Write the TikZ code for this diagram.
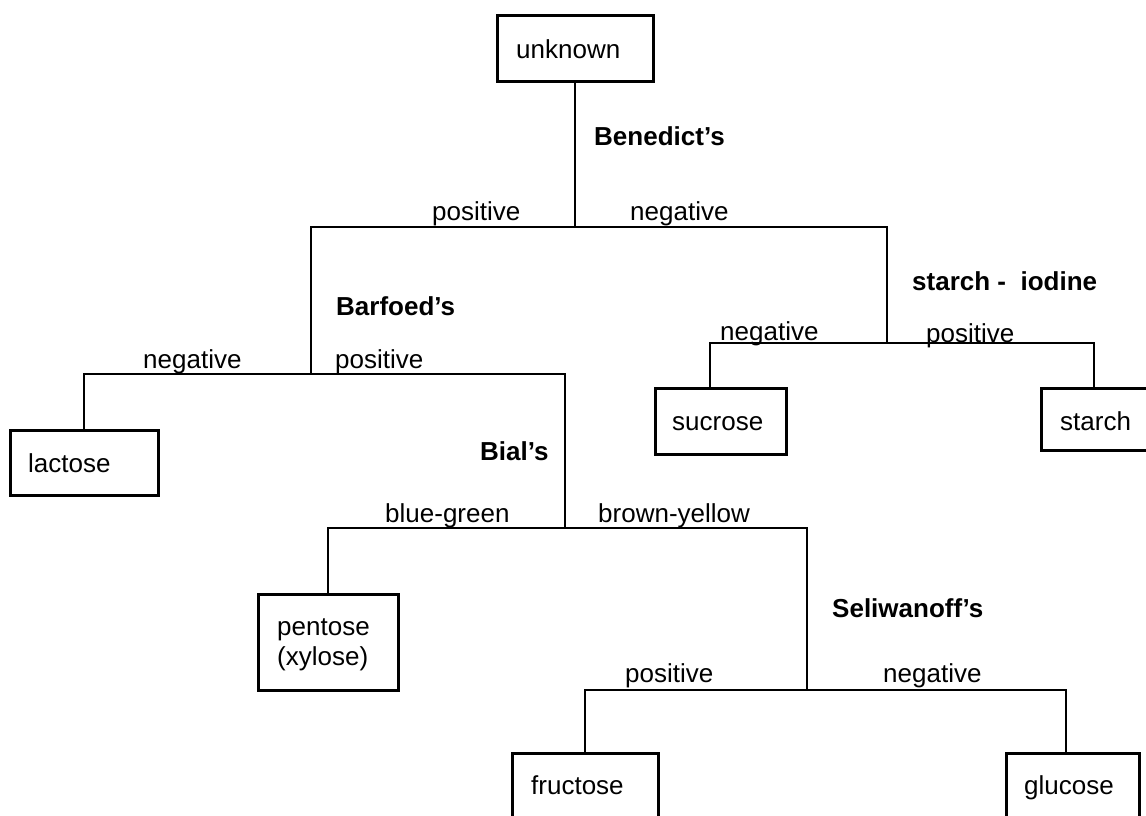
\documentclass[tikz,border=0pt]{standalone}
\usepackage{fontspec}
\setmainfont{Liberation Sans}
\begin{document}
\begin{tikzpicture}[x=1pt,y=-1pt,
  box/.style={draw=black, line width=3pt, fill=none, anchor=north west, inner sep=0pt, outer sep=0pt},
  txt/.style={anchor=base west, inner sep=0pt, font=\fontsize{26}{30}\selectfont},
  test/.style={txt, font=\fontsize{26}{30}\selectfont\bfseries},
  conn/.style={draw=black, line width=2.6pt, line join=miter}]
\useasboundingbox (0,0) rectangle (1146,815);
\clip (0,0) rectangle (1146,815);
% boxes
\node[box, minimum width=156pt, minimum height=66pt] (unk) at (497,15) {};
\node[box, minimum width=148pt, minimum height=65pt] (lac) at (10,430) {};
\node[box, minimum width=131pt, minimum height=66pt] (suc) at (655,388) {};
\node[box, minimum width=108pt, minimum height=62pt] (sta) at (1041,388) {};
\node[box, minimum width=140pt, minimum height=96pt] (pen) at (258,594) {};
\node[box, minimum width=146pt, minimum height=66pt] (fru) at (512,753) {};
\node[box, minimum width=133pt, minimum height=66pt] (glu) at (1006,753) {};
% box texts
\node[txt] (unkT) at (516,58) {unknown};
\node[txt] (lacT) at (28,472) {lactose};
\node[txt] (sucT) at (672,430) {sucrose};
\node[txt] (staT) at (1060,430) {starch};
\node[txt] (penT) at (277,635) {pentose};
\node[txt] (penT2) at (277,665) {(xylose)};
\node[txt] (fruT) at (531,794) {fructose};
\node[txt] (gluT) at (1024,794) {glucose};
% junction coordinates
\coordinate (bJ) at (575,227);
\coordinate (bR) at (887,227);
\coordinate (fJ) at (311,374);
\coordinate (fR) at (565,374);
\coordinate (iJ) at (565,528);
\coordinate (iR) at (807,528);
\coordinate (sJ) at (807,690);
\coordinate (sR) at (1066,690);
\coordinate (tJ) at (887,343);
\coordinate (tL) at (710,343);
\coordinate (tR) at (1094,343);
% connectors
\draw[conn] (unk.south) -- (bJ);
\draw[conn] (fJ) |- (bR) -- (tJ);
\draw[conn] (lac.north) |- (fR) -- (iJ);
\draw[conn] (pen.north) |- (iR) -- (sJ);
\draw[conn] (fru.north) |- (sR) -- (sR |- glu.north);
\draw[conn] (tL |- suc.north) -- (tL) -- (tR) -- (tR |- sta.north);
% test names
\node[test] (tBen) at (594,145) {Benedict’s};
\node[test] (tBar) at (336,315) {Barfoed’s};
\node[test] (tBia) at (480,460) {Bial’s};
\node[test] (tSel) at (832,617) {Seliwanoff’s};
\node[test] (tIod) at (912,290) {starch -\ \ iodine};
% outcome labels
\node[txt] (l1) at (432,220) {positive};
\node[txt] (l2) at (630,220) {negative};
\node[txt] (l3) at (143,368) {negative};
\node[txt] (l4) at (335,368) {positive};
\node[txt] (l5) at (385,522) {blue-green};
\node[txt] (l6) at (598,522) {brown-yellow};
\node[txt] (l7) at (625,682) {positive};
\node[txt] (l8) at (883,682) {negative};
\node[txt] (l9) at (720,340) {negative};
\node[txt] (l10) at (926,342) {positive};
\end{tikzpicture}
\end{document}
